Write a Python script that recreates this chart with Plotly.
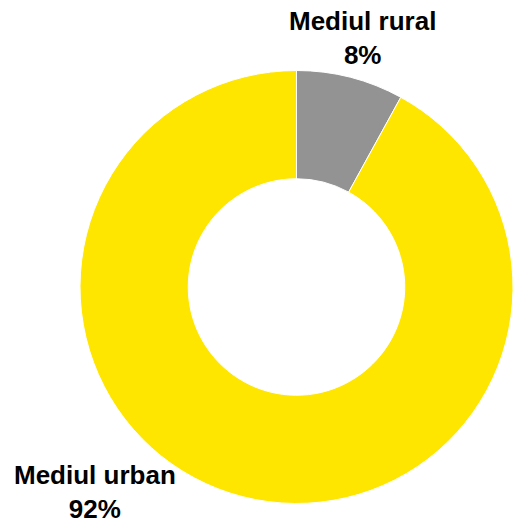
import plotly.graph_objects as go

# Population share by area of residence
categories = ["Mediul rural", "Mediul urban"]
values = [8, 92]
colors = ["#939393", "#FFE600"]

W, H = 513, 524

total = sum(values)
shares = [round(v / total * 100) for v in values]

fig = go.Figure(
    go.Pie(
        labels=categories,
        values=values,
        hole=0.5,
        sort=False,
        direction="clockwise",
        rotation=0,
        marker=dict(colors=colors, line=dict(color="white", width=1)),
        textinfo="none",
        hoverinfo="label+percent",
        showlegend=False,
        domain=dict(x=[80 / W, 1.0], y=[(H - 504) / H, (H - 70) / H]),
    )
)

label_font = dict(family="Liberation Sans, Arial, sans-serif", size=26, color="#000000")

# label positions (paper coordinates) for each slice
label_pos = {
    "Mediul rural": (362 / W, 1 - 38 / H),
    "Mediul urban": (95 / W, 1 - 492 / H),
}

for cat, pct in zip(categories, shares):
    x, y = label_pos[cat]
    fig.add_annotation(
        x=x, y=y, xref="paper", yref="paper",
        xanchor="center", yanchor="middle",
        text=f"<b>{cat}</b><br><b>{pct}%</b>",
        showarrow=False,
        font=label_font,
        align="center",
    )

fig.update_layout(
    width=W, height=H,
    margin=dict(l=0, r=0, t=0, b=0),
    paper_bgcolor="white",
    plot_bgcolor="white",
)

fig.write_html("out.html")
